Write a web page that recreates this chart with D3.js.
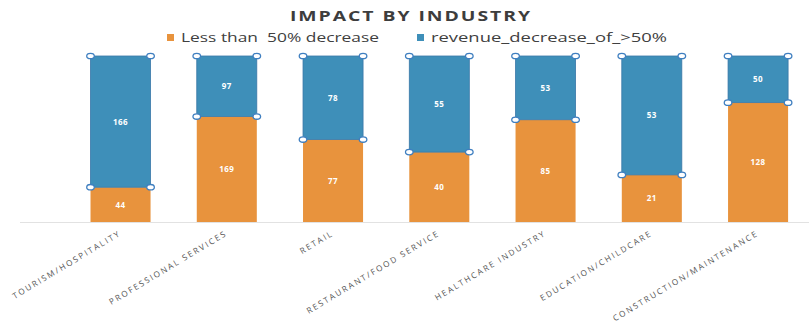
<!DOCTYPE html>
<html>
<head>
<meta charset="utf-8">
<script src="https://cdn.jsdelivr.net/npm/d3@7"></script>
<style>
  body { margin: 0; background: #fff; }
  text { font-family: "Open Sans", sans-serif; }
</style>
</head>
<body>
<div id="chart"></div>
<script>
// data
const industries = ["TOURISM/HOSPITALITY", "PROFESSIONAL SERVICES", "RETAIL", "RESTAURANT/FOOD SERVICE",
  "HEALTHCARE INDUSTRY", "EDUCATION/CHILDCARE", "CONSTRUCTION/MAINTENANCE"];
const lessThan50 = [44, 169, 77, 40, 85, 21, 128];
const moreThan50 = [166, 97, 78, 55, 53, 53, 50];
const seriesNames = ["Less than  50% decrease", "revenue_decrease_of_>50%"];
const colors = ["#E8933D", "#3E8FB9"];

const width = 809, height = 326;

const svg = d3.select("#chart")
  .append("svg")
  .attr("width", width)
  .attr("height", height);

// build rows for the stack, as share of the total (100% stacked)
const rows = industries.map((name, i) => {
  const tot = lessThan50[i] + moreThan50[i];
  return { name: name, a: lessThan50[i] / tot, b: moreThan50[i] / tot, va: lessThan50[i], vb: moreThan50[i] };
});
const stacked = d3.stack().keys(["a", "b"])(rows);

const x = d3.scaleBand()
  .domain(industries)
  .range([67.4, 811.2])
  .paddingInner(0.435)
  .paddingOuter(0.2175);

const y = d3.scaleLinear()
  .domain([0, 1])
  .range([222, 56]);

// faint baseline
svg.append("line")
  .attr("x1", 20).attr("x2", width)
  .attr("y1", y(0) + 0.5).attr("y2", y(0) + 0.5)
  .style("stroke", "#e2e2e2");

// bars
const layer = svg.selectAll("g.layer")
  .data(stacked)
  .join("g")
  .attr("class", "layer")
  .style("fill", (d, i) => colors[i]);

layer.selectAll("rect")
  .data(d => d)
  .join("rect")
  .attr("x", d => x(d.data.name))
  .attr("width", x.bandwidth())
  .attr("y", d => y(d[1]))
  .attr("height", d => y(d[0]) - y(d[1]));

// selected-series outline on the blue bars
svg.append("g")
  .selectAll("rect")
  .data(stacked[1])
  .join("rect")
  .attr("x", d => x(d.data.name))
  .attr("width", x.bandwidth())
  .attr("y", d => y(d[1]))
  .attr("height", d => y(d[0]) - y(d[1]))
  .style("fill", "none")
  .style("stroke", "#3a78a8")
  .style("stroke-width", 0.8);

// value labels
layer.selectAll("text")
  .data((d, i) => d.map(p => ({ p: p, v: i === 0 ? p.data.va : p.data.vb })))
  .join("text")
  .attr("x", d => x(d.p.data.name) + x.bandwidth() / 2)
  .attr("y", d => (y(d.p[0]) + y(d.p[1])) / 2 + 3)
  .attr("text-anchor", "middle")
  .style("fill", "#fff")
  .style("font-size", "8px")
  .style("font-weight", "bold")
  .style("letter-spacing", "0.5px")
  .text(d => d.v);

// corner handles of the selected series
const handles = [];
stacked[1].forEach(d => {
  const x0 = x(d.data.name), x1 = x0 + x.bandwidth();
  [y(d[1]), y(d[0])].forEach(yy => {
    handles.push([x0, yy]);
    handles.push([x1, yy]);
  });
});
svg.append("g")
  .selectAll("ellipse")
  .data(handles)
  .join("ellipse")
  .attr("cx", d => d[0])
  .attr("cy", d => d[1])
  .attr("rx", 3.8)
  .attr("ry", 2.7)
  .style("fill", "#fff")
  .style("stroke", "#3f7fc0")
  .style("stroke-width", 1.3);

// category labels, rotated
svg.append("g")
  .selectAll("text")
  .data(industries)
  .join("text")
  .attr("text-anchor", "end")
  .attr("transform", d => "translate(" + (x(d) + x.bandwidth() / 2 + 1) + ",235) rotate(-31)")
  .style("font-size", "8.2px")
  .style("letter-spacing", "1.9px")
  .style("fill", "#555")
  .text(d => d);

// title
svg.append("text")
  .attr("x", 290)
  .attr("y", 21)
  .attr("textLength", 242)
  .attr("lengthAdjust", "spacingAndGlyphs")
  .style("font-size", "15px")
  .style("font-weight", "bold")
  .style("letter-spacing", "1.5px")
  .style("fill", "#3d3d3d")
  .text("IMPACT BY INDUSTRY");

// legend
const legendX = [167, 417];
const legendLen = [198, 236];
const legend = svg.append("g")
  .selectAll("g")
  .data(seriesNames)
  .join("g")
  .attr("transform", (d, i) => "translate(" + legendX[i] + ",0)");

legend.append("rect")
  .attr("x", 0).attr("y", 34)
  .attr("width", 7).attr("height", 7)
  .style("fill", (d, i) => colors[i]);

legend.append("text")
  .attr("x", 14)
  .attr("y", 42)
  .attr("textLength", (d, i) => legendLen[i])
  .attr("lengthAdjust", "spacingAndGlyphs")
  .style("font-size", "13.5px")
  .style("fill", "#404040")
  .style("white-space", "pre")
  .text(d => d);
</script>
</body>
</html>
